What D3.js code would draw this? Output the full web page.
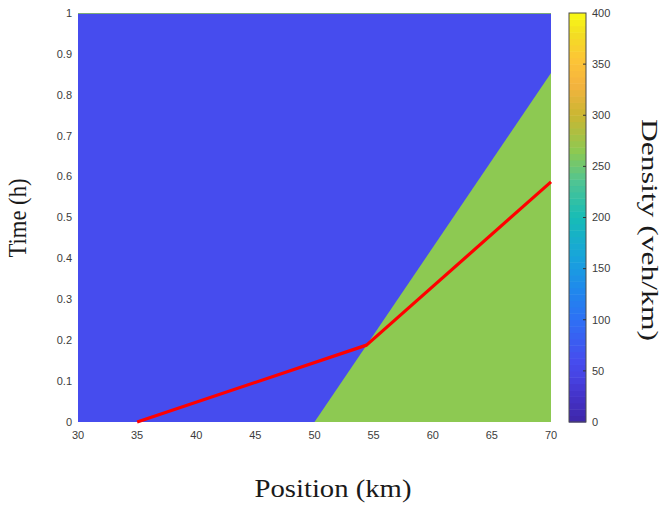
<!DOCTYPE html>
<html>
<head>
<meta charset="utf-8">
<script src="https://cdn.jsdelivr.net/npm/d3@7"></script>
<style>
  html, body { margin: 0; padding: 0; background: #fff; }
  svg { display: block; }
  .tick-label { font-family: "Liberation Sans", Arial, sans-serif; font-size: 11px; fill: #3c3c3c; }
  .title { font-family: "Liberation Serif", "Times New Roman", serif; font-size: 25px; fill: #1a1a1a; }
</style>
</head>
<body>
<svg id="chart" width="663" height="506"></svg>
<script>
// Domain of the space-time diagram
const positionDomain = [30, 70];      // km
const timeDomain = [0, 1];            // h
const densityDomain = [0, 400];       // veh/km

// Tick labels
const xTicks = [30, 35, 40, 45, 50, 55, 60, 65, 70];
const yTicks = [0, 0.1, 0.2, 0.3, 0.4, 0.5, 0.6, 0.7, 0.8, 0.9, 1];
const yTickLabels = ["0", "0.1", "0.2", "0.3", "0.4", "0.5", "0.6", "0.7", "0.8", "0.9", "1"];
const cbTicks = [0, 50, 100, 150, 200, 250, 300, 350, 400];

// Traffic states: upstream free flow and downstream queue
const freeFlowDensity = 60;
const queueDensity = 265;

// Shock wave separating the two states: [position, time]
const shockStart = [50, 0];
const shockEnd = [70, 0.853];

// Vehicle trajectory: [position, time]
const trajectory = [[35, 0], [54.4, 0.188], [70, 0.587]];

// Parula-like colour map stops: [density, colour]
const cmapStops = [
  [0, "#3e26a8"], [25, "#4432c8"], [45, "#4744e4"], [60, "#464cee"],
  [100, "#2e70f5"], [130, "#1f89ec"], [160, "#18a3dc"], [200, "#17bcb6"],
  [235, "#4fc493"], [265, "#8dc952"], [300, "#cab632"], [330, "#f5b33f"],
  [355, "#fdc536"], [380, "#f2de22"], [400, "#f9fb14"]
];

const svg = d3.select("#chart");

const x = d3.scaleLinear().domain(positionDomain).range([78, 551]);
const y = d3.scaleLinear().domain(timeDomain).range([422, 13]);
const color = d3.scaleLinear()
  .domain(cmapStops.map(d => d[0]))
  .range(cmapStops.map(d => d[1]))
  .interpolate(d3.interpolateRgb);

// Free-flow region (whole plot area), then queue region over it
const plot = svg.append("g");
plot.append("rect")
  .attr("x", x(positionDomain[0]))
  .attr("y", y(timeDomain[1]))
  .attr("width", x(positionDomain[1]) - x(positionDomain[0]))
  .attr("height", y(timeDomain[0]) - y(timeDomain[1]))
  .attr("fill", color(freeFlowDensity));

const queuePoly = [shockStart, [positionDomain[1], timeDomain[0]], shockEnd];
plot.append("path")
  .attr("d", d3.line().x(d => x(d[0])).y(d => y(d[1]))(queuePoly) + "Z")
  .attr("fill", color(queueDensity));

// Thin row of queue colour along the last time step
plot.append("line")
  .attr("x1", x(positionDomain[0])).attr("x2", x(positionDomain[1]))
  .attr("y1", y(timeDomain[1]) + 0.5).attr("y2", y(timeDomain[1]) + 0.5)
  .attr("stroke", color(queueDensity)).attr("stroke-opacity", 0.75).attr("stroke-width", 1);

// Trajectory
plot.append("path")
  .attr("d", d3.line().x(d => x(d[0])).y(d => y(d[1]))(trajectory))
  .attr("fill", "none")
  .attr("stroke", "#ff0000")
  .attr("stroke-width", 3.2)
  .attr("stroke-linejoin", "round");

// Axis tick labels
svg.append("g").selectAll("text").data(xTicks).join("text")
  .attr("class", "tick-label")
  .attr("x", d => x(d)).attr("y", 439)
  .attr("text-anchor", "middle")
  .text(d => d);

svg.append("g").selectAll("text").data(yTicks).join("text")
  .attr("class", "tick-label")
  .attr("x", 72).attr("y", d => y(d)).attr("dy", "0.35em")
  .attr("text-anchor", "end")
  .text((d, i) => yTickLabels[i]);

// Colour bar
const cbX0 = 569, cbX1 = 586;
const cy = d3.scaleLinear().domain(densityDomain).range([422, 13]);
const nBands = 64;
const bands = d3.range(nBands).map(i => densityDomain[0] + (i + 0.5) * (densityDomain[1] - densityDomain[0]) / nBands);
const bandH = (densityDomain[1] - densityDomain[0]) / nBands;
const cb = svg.append("g");
cb.selectAll("rect.band").data(bands).join("rect")
  .attr("class", "band")
  .attr("x", cbX0)
  .attr("width", cbX1 - cbX0)
  .attr("y", d => cy(d + bandH / 2))
  .attr("height", d => cy(d - bandH / 2) - cy(d + bandH / 2) + 0.5)
  .attr("fill", d => color(d));
cb.append("rect")
  .attr("x", cbX0).attr("y", cy(densityDomain[1]))
  .attr("width", cbX1 - cbX0).attr("height", cy(densityDomain[0]) - cy(densityDomain[1]))
  .attr("fill", "none").attr("stroke", "#4a4a4a").attr("stroke-width", 1);
cb.selectAll("line.tk").data(cbTicks.slice(1, -1)).join("line")
  .attr("class", "tk")
  .attr("x1", cbX1 - 3).attr("x2", cbX1)
  .attr("y1", d => cy(d)).attr("y2", d => cy(d))
  .attr("stroke", "#333").attr("stroke-width", 1);
cb.selectAll("text").data(cbTicks).join("text")
  .attr("class", "tick-label")
  .attr("x", 592).attr("y", d => cy(d)).attr("dy", "0.35em")
  .attr("text-anchor", "start")
  .text(d => d);

// Axis titles
svg.append("text").attr("class", "title")
  .attr("x", 333).attr("y", 497)
  .attr("text-anchor", "middle")
  .attr("textLength", 157).attr("lengthAdjust", "spacingAndGlyphs")
  .text("Position (km)");

svg.append("text").attr("class", "title")
  .attr("transform", "translate(26,218) rotate(-90)")
  .attr("text-anchor", "middle")
  .attr("textLength", 79).attr("lengthAdjust", "spacingAndGlyphs")
  .text("Time (h)");

svg.append("text").attr("class", "title")
  .style("font-size", "23px")
  .attr("transform", "translate(642,230) rotate(90)")
  .attr("text-anchor", "middle")
  .attr("textLength", 222).attr("lengthAdjust", "spacingAndGlyphs")
  .text("Density (veh/km)");
</script>
</body>
</html>
